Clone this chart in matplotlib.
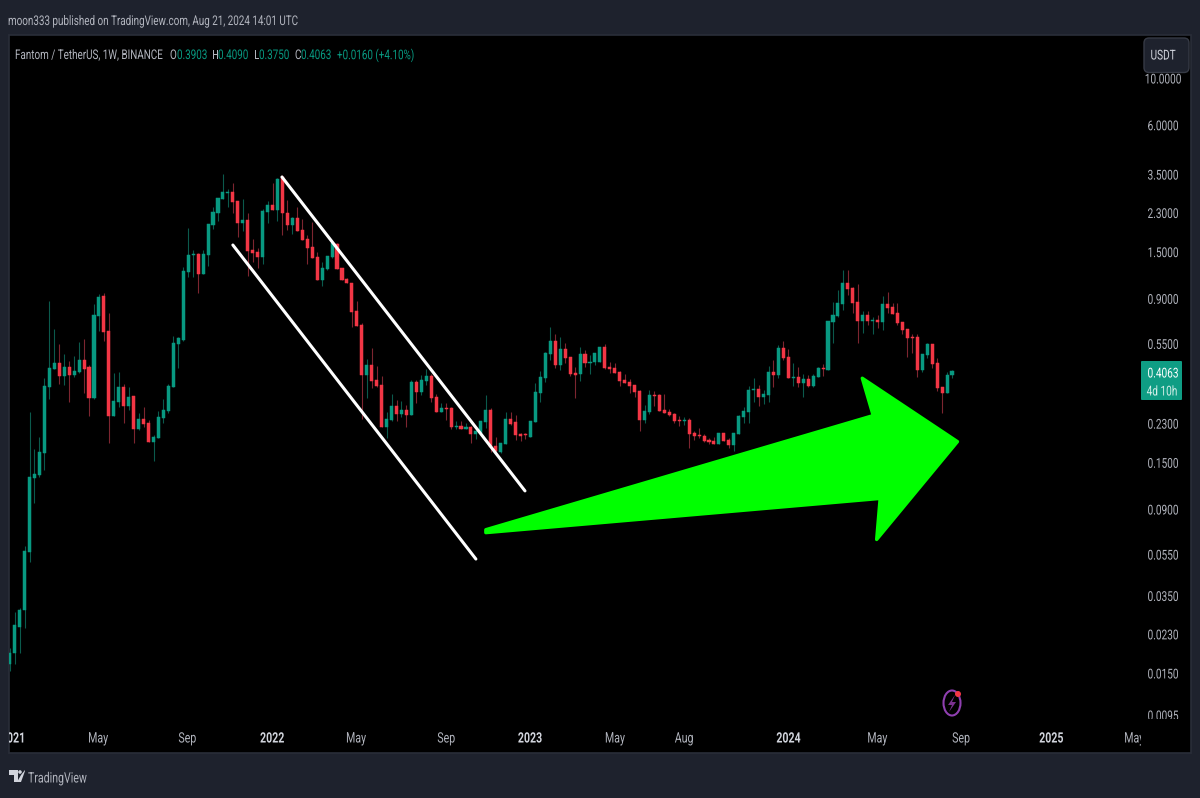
#!/usr/bin/env python3

import matplotlib
matplotlib.use("Agg")
import matplotlib.pyplot as plt
from matplotlib.patches import Polygon, Rectangle, FancyBboxPatch, Ellipse, Circle
from matplotlib.patheffects import AbstractPathEffect
from matplotlib.transforms import Affine2D

W, H = 1200, 798
FUENTE = ["Roboto", "DejaVu Sans"]
ESTRECHO = 0.74   # el texto del original es mas angosto que Roboto

opens = [
    .0165, .0186, .0249, .0297, .0565, .127, .131, .166, .341, .415,
    .445, .386, .425, .390, .402, .459, .425, .302, .742, .923,
    .629, .248, .290, .341, .278, .308, .216, .241, .231, .188,
    .196, .243, .263, .341, .547, .571, 1.20, 1.44, 1.46, 1.17,
    1.44, 2.01, 2.29, 2.67, 2.85, 2.88, 2.61, 2.05, 2.12, 1.53,
    1.50, 1.41, 2.31, 2.49, 2.36, 3.39, 2.29, 2.01, 2.17, 1.90,
    1.72, 1.58, 1.41, 1.10, 1.24, 1.41, 1.63, 1.26, 1.11, 1.07,
    .783, .672, .390, .434, .369, .350, .220, .238, .278, .255,
    .266, .252, .360, .323, .365, .386, .305, .261, .272, .272,
    .220, .223, .216, .220, .205, .207, .233, .266, .180, .168,
    .184, .241, .233, .205, .205, .198, .233, .320, .376, .491,
    .565, .434, .517, .474, .398, .394, .491, .445, .450, .450,
    .529, .425, .419, .402, .369, .361, .350, .327, .238, .261,
    .313, .313, .266, .261, .255, .238, .236, .238, .207, .203,
    .201, .192, .190, .184, .207, .192, .182, .205, .246, .261,
    .330, .334, .305, .313, .402, .390, .523, .474, .376, .381,
    .357, .373, .345, .381, .419, .411, .696, .742, .845, 1.06,
    1.01, .865, .703, .750, .703, .710, .696, .845, .819, .767,
    .696, .642, .590, .590, .411, .485, .547, .445, .341, .320, .3903,
]
highs = [
    .0196, .0291, .0306, .0603, .261, .174, .198, .376, .874, .642,
    .547, .491, .454, .480, .559, .577, .434, .845, .943, .953,
    .767, .398, .402, .354, .341, .308, .257, .275, .238, .202,
    .263, .299, .354, .596, .590, 1.27, 1.94, 1.53, 1.47, 1.53,
    2.03, 2.44, 2.69, 3.50, 2.97, 3.17, 2.61, 2.67, 2.29, 1.72,
    1.56, 2.39, 2.61, 3.17, 3.35, 3.46, 2.64, 2.19, 2.44, 2.14,
    1.80, 2.07, 1.50, 1.34, 1.43, 1.66, 1.65, 1.26, 1.13, 1.07,
    .874, .688, .464, .523, .430, .386, .261, .316, .296, .293,
    .281, .369, .369, .390, .415, .394, .316, .287, .287, .275,
    .236, .236, .231, .223, .214, .236, .313, .272, .198, .186,
    .261, .261, .251, .207, .207, .236, .357, .407, .502, .656,
    .607, .590, .553, .474, .425, .529, .512, .485, .497, .529,
    .547, .450, .445, .407, .394, .373, .350, .330, .281, .330,
    .327, .316, .316, .269, .257, .248, .246, .243, .212, .218,
    .205, .196, .198, .207, .207, .196, .207, .251, .275, .345,
    .376, .350, .330, .430, .459, .541, .565, .517, .445, .425,
    .394, .390, .394, .425, .440, .703, .864, .985, 1.23, 1.23,
    1.02, 1.05, .783, .783, .734, .750, .923, .964, .856, .856,
    .696, .642, .607, .612, .491, .553, .547, .469, .341, .402, .409,
]
lows = [
    .0154, .0165, .0186, .0244, .0507, .0965, .128, .138, .300, .415,
    .354, .350, .290, .381, .398, .320, .248, .300, .629, .565,
    .186, .248, .275, .231, .266, .186, .214, .220, .188, .152,
    .196, .231, .257, .341, .419, .565, 1.14, 1.14, .953, 1.17,
    1.28, 1.92, 2.10, 2.67, 2.44, 2.29, 1.76, 1.88, 1.15, 1.34,
    1.26, 1.31, 2.05, 2.36, 2.10, 1.80, 1.90, 1.82, 1.88, 1.70,
    1.31, 1.40, 1.10, 1.03, 1.23, 1.40, 1.24, 1.10, 1.06, .656,
    .664, .241, .302, .337, .341, .220, .196, .236, .236, .246,
    .220, .252, .287, .313, .350, .290, .261, .261, .238, .216,
    .216, .216, .216, .186, .194, .203, .218, .168, .168, .166,
    .184, .226, .192, .190, .194, .198, .233, .290, .361, .459,
    .419, .411, .445, .386, .302, .365, .425, .394, .434, .450,
    .415, .398, .398, .345, .357, .320, .305, .212, .231, .255,
    .278, .263, .257, .248, .231, .223, .226, .176, .192, .196,
    .188, .184, .184, .184, .190, .176, .170, .205, .231, .231,
    .290, .278, .284, .290, .341, .376, .459, .376, .345, .341,
    .305, .341, .341, .381, .386, .411, .553, .734, .792, .933,
    .767, .553, .616, .672, .612, .649, .636, .767, .759, .672,
    .612, .474, .497, .381, .402, .469, .419, .327, .257, .320, .375,
]
closes = [
    .0186, .0252, .0300, .0571, .128, .132, .168, .345, .419, .445,
    .386, .425, .390, .407, .459, .415, .302, .750, .913, .623,
    .248, .293, .341, .278, .305, .216, .241, .228, .188, .198,
    .246, .266, .345, .553, .583, 1.21, 1.44, 1.46, 1.17, 1.46,
    2.03, 2.31, 2.69, 2.88, 2.88, 2.58, 2.05, 2.12, 1.51, 1.48,
    1.41, 2.34, 2.49, 2.36, 3.31, 2.29, 2.01, 2.17, 1.88, 1.70,
    1.56, 1.40, 1.10, 1.26, 1.43, 1.65, 1.24, 1.10, 1.06, .775,
    .664, .390, .434, .365, .345, .220, .241, .278, .255, .266,
    .252, .360, .323, .369, .386, .302, .261, .272, .269, .220,
    .223, .216, .220, .205, .210, .236, .266, .178, .170, .186,
    .241, .228, .203, .201, .203, .236, .323, .381, .497, .565,
    .434, .517, .469, .394, .390, .491, .445, .450, .497, .529,
    .419, .415, .398, .365, .357, .345, .323, .238, .263, .313,
    .310, .263, .257, .252, .236, .236, .238, .205, .201, .201,
    .190, .188, .184, .207, .190, .182, .207, .248, .263, .330,
    .334, .305, .316, .402, .390, .523, .469, .376, .381, .357,
    .373, .345, .386, .419, .415, .703, .750, .856, 1.06, .996,
    .856, .703, .750, .703, .710, .696, .845, .810, .759, .688,
    .636, .583, .583, .411, .491, .547, .440, .337, .320, .390, .4063,
]

price_ticks = [10.0, 6.0, 3.5, 2.3, 1.5, 0.9, 0.55, 0.23, 0.15, 0.09, 0.055, 0.035, 0.023, 0.015, 0.0095]
time_labels = ["2021", "May", "Sep", "2022", "May", "Sep", "2023", "May", "Aug", "2024", "May", "Sep", "2025", "May"]
time_pos = [0.7, 17.8, 35.8, 52.9, 69.8, 88.0, 104.9, 122.0, 136.0, 157.0, 174.9, 191.8, 210.0, 226.7]
year_labels = ("2021", "2022", "2023", "2024", "2025")

# canal y flecha dibujados sobre el grafico (semana, precio)
upper_x, upper_p = [54.9, 103.9], [3.39, 0.1097]
lower_x, lower_p = [45.0, 94.0], [1.612, 0.0521]
arrow_x = [96.0, 174.1, 171.9, 191.1, 174.8, 175.5, 96.0]
arrow_p = [0.0718, 0.2500, 0.3760, 0.188, 0.0645, 0.1010, 0.0695]

VERDE = "#089981"
ROJO = "#f23645"
VERDE_MECHA = "#0b5a4c"
ROJO_MECHA = "#7d2530"
FONDO = "#1e222d"
GRIS = "#b2b5be"


class Estrecho(AbstractPathEffect):
    def __init__(self, sx, ha):
        self.sx = sx
        self.ha = ha

    def draw_path(self, renderer, gc, tpath, affine, rgbFace=None):
        cx = tpath.get_extents().intervalx.mean() if self.ha == "center" else 0.0
        aj = Affine2D().translate(-cx, 0).scale(self.sx, 1).translate(cx, 0)
        renderer.draw_path(gc, tpath, aj + affine, rgbFace)


def texto(eje, x, y, s, ha="left", clip=False, **kw):
    t = eje.text(x, y, s, ha=ha, va="center_baseline", clip_on=clip, **kw)
    t.set_path_effects([Estrecho(ESTRECHO, ha)])
    return t


def rect_px(x0, y0, x1, y1):
    return [x0 / W, 1 - y1 / H, (x1 - x0) / W, (y1 - y0) / H]


plt.rcParams["font.family"] = FUENTE
fig = plt.figure(figsize=(12, 7.98), dpi=100, facecolor=FONDO)

# capa de pixeles para el marco
marco = fig.add_axes([0, 0, 1, 1], zorder=0)
marco.set_xlim(0, W)
marco.set_ylim(H, 0)
marco.axis("off")
marco.add_patch(Rectangle((9, 35), 1182, 718, fc="black", ec="#2a2e39", lw=1.2))

# velas
ax = fig.add_axes(rect_px(9, 35, 1141, 719), zorder=1, facecolor="black")
ax.set_yscale("log")
ax.set_xlim(-0.135, 228.1)
ax.set_ylim(0.00907, 16.0)
ax.axis("off")

semanas = list(range(len(opens)))
col_cuerpo = [VERDE if c >= o else ROJO for o, c in zip(opens, closes)]
col_mecha = [VERDE_MECHA if c >= o else ROJO_MECHA for o, c in zip(opens, closes)]
abajo = [min(o, c) for o, c in zip(opens, closes)]
alto = [abs(c - o) for o, c in zip(opens, closes)]
ax.vlines(semanas, lows, highs, colors=col_mecha, lw=0.8, zorder=2)
ax.bar(semanas, alto, bottom=abajo, width=0.62, color=col_cuerpo, edgecolor=col_cuerpo, lw=0.35, zorder=3)

ax.plot(upper_x, upper_p, color="white", lw=2.2, solid_capstyle="round", zorder=4)
ax.plot(lower_x, lower_p, color="white", lw=2.2, solid_capstyle="round", zorder=4)
ax.add_patch(Polygon(list(zip(arrow_x, arrow_p)), closed=True, fc="#00ff00", ec="#00ff00",
                     lw=2.4, joinstyle="round", zorder=5))

# escala de precios
ax_p = fig.add_axes(rect_px(1141, 35, 1191, 719), zorder=2, sharey=ax)
ax_p.patch.set_alpha(0)
ax_p.set_xlim(0, 1)
ax_p.axis("off")
for p in price_ticks:
    texto(ax_p, 0.44, p, f"{p:.4f}", ha="center", clip=True, color=GRIS, fontsize=9.8)

# eje de tiempo
ax_t = fig.add_axes(rect_px(9, 719, 1141, 753), zorder=2, sharex=ax)
ax_t.patch.set_alpha(0)
ax_t.set_ylim(0, 1)
ax_t.axis("off")
for pos, lab in zip(time_pos, time_labels):
    if lab in year_labels:
        texto(ax_t, pos, 0.47, lab, ha="center", clip=True, color="#d1d4dc", fontsize=10.3, fontweight="bold")
    else:
        texto(ax_t, pos, 0.47, lab, ha="center", clip=True, color=GRIS, fontsize=10.3)

# capa superior: textos y adornos
top = fig.add_axes([0, 0, 1, 1], zorder=3)
top.patch.set_alpha(0)
top.set_xlim(0, W)
top.set_ylim(H, 0)
top.axis("off")

texto(top, 8, 20, "moon333 published on TradingView.com, Aug 21, 2024 14:01 UTC", color=GRIS, fontsize=9.6)
texto(top, 15, 54, "Fantom / TetherUS, 1W, BINANCE", color=GRIS, fontsize=9.6)
for x, letra, x_val, valor in [(170, "O", 177, "0.3903"), (212, "H", 218, "0.4090"),
                               (254, "L", 259, "0.3750"), (295, "C", 301, "0.4063")]:
    texto(top, x, 54, letra, color=GRIS, fontsize=9.6)
    texto(top, x_val, 54, valor, color=VERDE, fontsize=9.6)
texto(top, 337, 54, "+0.0160 (+4.10%)", color=VERDE, fontsize=9.6)

top.add_patch(FancyBboxPatch((1147, 41), 39, 28.5, boxstyle="round,pad=3,rounding_size=5",
                             fc=FONDO, ec="#363a45", lw=1.0))
texto(top, 1163, 54, "USDT", ha="center", color="#d1d4dc", fontsize=9.8)

top.add_patch(FancyBboxPatch((1141, 361), 41, 39, boxstyle="round,pad=0,rounding_size=1", fc="#0f9d84", ec="none"))
texto(top, 1163, 372, "0.4063", ha="center", color="white", fontsize=9.8)
texto(top, 1162, 390, "4d 10h", ha="center", color="#d6efe9", fontsize=9.8)

# icono del rayo
top.add_patch(Ellipse((952, 703), 17, 25, fc="none", ec="#8f3fb0", lw=1.5))
top.add_patch(Polygon([(955, 695), (948, 705), (952, 705), (949, 712), (956, 702), (952, 702)], fc="#7b3190", ec="none"))
top.add_patch(Circle((958, 694), 3.0, fc="#f23645", ec="none"))

# logo de TradingView
top.add_patch(Polygon([(9, 770), (18, 770), (18, 782), (14, 782), (14, 775), (9, 775)], fc="#d1d4dc", ec="none"))
top.add_patch(Circle((20, 772), 1.8, fc="#d1d4dc", ec="none"))
top.add_patch(Polygon([(21, 775), (25, 770), (25, 771), (21, 782), (17, 782)], fc="#d1d4dc", ec="none"))
texto(top, 28, 777, "TradingView", color=GRIS, fontsize=10.3)

fig.savefig("out.png", dpi=100, facecolor=FONDO)
plt.close(fig)
